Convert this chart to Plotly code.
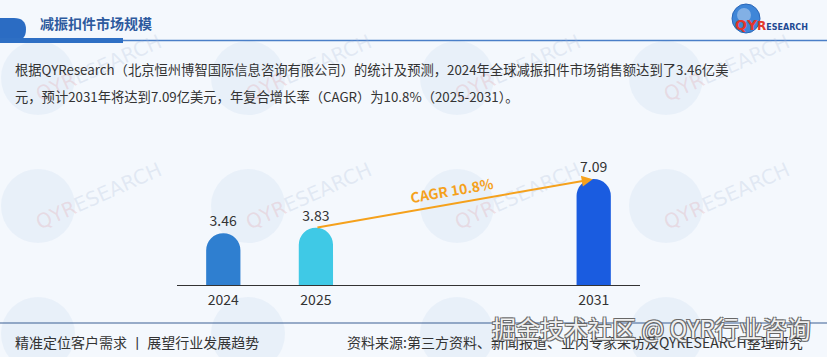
import plotly.graph_objects as go

W, H = 827, 357

# ---------------- data ----------------
years = ["2024", "2025", "2031"]
values = [3.46, 3.83, 7.09]
bar_colors = ["#2f7fd0", "#3fc9e6", "#1a5ce0"]
slot_order = ["2024", "2025", " ", "  ", "2031"]
cagr_label = "CAGR 10.8%"
title_text = "减振扣件市场规模"
para_line1 = "根据QYResearch（北京恒州博智国际信息咨询有限公司）的统计及预测，2024年全球减振扣件市场销售额达到了3.46亿美"
para_line2 = "元，预计2031年将达到7.09亿美元，年复合增长率（CAGR）为10.8%（2025-2031）。"
footer_left = "精准定位客户需求 丨 展望行业发展趋势"
footer_right = "资料来源:第三方资料、新闻报道、业内专家采访及QYRESEARCH整理研究"
overlay_text = "掘金技术社区 @ QYR行业咨询"

FONT = "Noto Sans CJK SC, Noto Sans, sans-serif"


def px(x):
    return x / W


def py(y):
    return 1 - y / H


fig = go.Figure()
fig.add_trace(go.Bar(
    x=years, y=values,
    width=0.37,
    marker=dict(color=bar_colors, cornerradius="50%", line=dict(width=0)),
    text=[f"{v:.2f}" for v in values],
    textposition="outside",
    textfont=dict(size=14, color="#333333", family=FONT),
    cliponaxis=False,
    hoverinfo="skip",
))

shapes = []
annotations = []

# watermark circles + text (faint)
wm_cols = [38, 248, 457, 666]
wm_rows = [78, 206, 334]
for cy in wm_rows:
    for cx in wm_cols:
        r = 37
        shapes.append(dict(type="circle", xref="paper", yref="paper",
                           x0=px(cx - r), x1=px(cx + r), y0=py(cy + r), y1=py(cy - r),
                           fillcolor="rgba(175,198,230,0.16)", line=dict(width=0), layer="below"))
        if cy < 300:
            annotations.append(dict(
                xref="paper", yref="paper", x=px(cx + 60), y=py(cy - 10),
                text="<span style='color:rgba(225,140,150,0.22)'>QYR</span>"
                     "<span style='color:rgba(170,185,215,0.25)'>ESEARCH</span>",
                showarrow=False, textangle=-24,
                font=dict(size=20, family="DejaVu Sans, sans-serif"),
                xanchor="center", yanchor="middle"))

# header pill
pill = (f"M {px(0)},{py(18)} L {px(14)},{py(18)} "
        f"Q {px(26)},{py(18)} {px(26)},{py(29.5)} "
        f"Q {px(26)},{py(41)} {px(14)},{py(41)} L {px(0)},{py(41)} Z")
shapes.append(dict(type="path", path=pill, xref="paper", yref="paper",
                   fillcolor="#2b6cc3", line=dict(width=0)))
shapes.append(dict(type="rect", xref="paper", yref="paper",
                   x0=px(0), x1=px(123), y0=py(43), y1=py(38),
                   fillcolor="#2e6fc4", line=dict(width=0)))
shapes.append(dict(type="line", xref="paper", yref="paper",
                   x0=px(123), x1=px(827), y0=py(40.5), y1=py(40.5),
                   line=dict(color="#4a7fc8", width=1.5)))
# footer line
shapes.append(dict(type="line", xref="paper", yref="paper",
                   x0=px(0), x1=px(827), y0=py(323), y1=py(323),
                   line=dict(color="#3a5f93", width=1)))
# logo globe
shapes.append(dict(type="circle", xref="paper", yref="paper",
                   x0=px(732), x1=px(760), y0=py(33), y1=py(4),
                   fillcolor="#3f86d8", line=dict(color="#2a66b8", width=1)))
shapes.append(dict(type="circle", xref="paper", yref="paper",
                   x0=px(737), x1=px(751), y0=py(22), y1=py(8),
                   fillcolor="rgba(255,255,255,0.35)", line=dict(width=0)))

# title
annotations.append(dict(xref="paper", yref="paper", x=px(38), y=py(23),
                        text=f"<b>{title_text}</b>", showarrow=False,
                        xanchor="left", yanchor="middle",
                        font=dict(size=14, color="#2d5a9e", family=FONT)))
# logo text
annotations.append(dict(xref="paper", yref="paper", x=px(733), y=py(25),
                        text="<b><span style='color:#e2372b;font-size:14px'>QY</span>"
                             "<span style='color:#e2372b;font-size:12px'>R</span>"
                             "<span style='color:#1f4a93;font-size:8px'>ESEARCH</span></b>",
                        showarrow=False, xanchor="left", yanchor="middle",
                        font=dict(size=12, family="DejaVu Sans, sans-serif")))
# paragraph
for txt, yy in [(para_line1, 70), (para_line2, 97)]:
    annotations.append(dict(xref="paper", yref="paper", x=px(13), y=py(yy),
                            text=txt, showarrow=False, xanchor="left", yanchor="middle",
                            font=dict(size=13.3, color="#333333", family=FONT)))

# CAGR arrow
i25 = slot_order.index(years[1])
i31 = slot_order.index(years[2])
annotations.append(dict(xref="x", yref="y", axref="x", ayref="y",
                        x=i31, y=values[2], ax=i25, ay=values[1],
                        text="", showarrow=True, arrowhead=2, arrowsize=1.1,
                        arrowwidth=2, arrowcolor="#f5a11c", standoff=1))
annotations.append(dict(xref="x", yref="y",
                        x=(i25 + i31) / 2, y=(values[1] + values[2]) / 2,
                        text=f"<b>{cagr_label}</b>", showarrow=False,
                        textangle=-10, yshift=13, xshift=-3,
                        font=dict(size=14, color="#f5a11c", family=FONT)))

# footer
annotations.append(dict(xref="paper", yref="paper", x=px(13), y=py(342),
                        text=footer_left, showarrow=False, xanchor="left", yanchor="middle",
                        font=dict(size=14, color="#333333", family=FONT)))
annotations.append(dict(xref="paper", yref="paper", x=px(805), y=py(342),
                        text=footer_right, showarrow=False, xanchor="right", yanchor="middle",
                        font=dict(size=14, color="#333333", family=FONT)))
# overlay watermark text
annotations.append(dict(xref="paper", yref="paper", x=px(813), y=py(327),
                        text=overlay_text, showarrow=False, xanchor="right", yanchor="middle",
                        font=dict(size=24, color="rgba(255,255,255,0.92)", family=FONT,
                                  shadow="1px 1px 0 #666, -1px -1px 0 #666, 1px -1px 0 #666, -1px 1px 0 #666")))

fig.update_layout(
    width=W, height=H,
    margin=dict(l=0, r=0, t=0, b=0),
    paper_bgcolor="#f4f8fd",
    plot_bgcolor="rgba(0,0,0,0)",
    showlegend=False,
    shapes=shapes,
    annotations=annotations,
    font=dict(family=FONT, color="#333333"),
    xaxis=dict(
        domain=[px(177), px(640)],
        type="category",
        categoryorder="array", categoryarray=slot_order,
        range=[-0.5, 4.5],
        tickmode="array", tickvals=years, ticktext=years,
        showline=True, linecolor="#333333", linewidth=1,
        ticks="", showgrid=False, zeroline=False,
        tickfont=dict(size=14, color="#333333", family=FONT),
        ticklabelstandoff=2,
        fixedrange=True,
    ),
    yaxis=dict(
        domain=[py(285), py(285 - 8 * 14.95)],
        range=[0, 8],
        visible=False, showgrid=False, zeroline=False,
        fixedrange=True,
    ),
)

fig.write_html(
    "out.html",
    config={"displayModeBar": False},
    post_script="document.body.style.margin='0';document.body.style.background='#f4f8fd';",
)
